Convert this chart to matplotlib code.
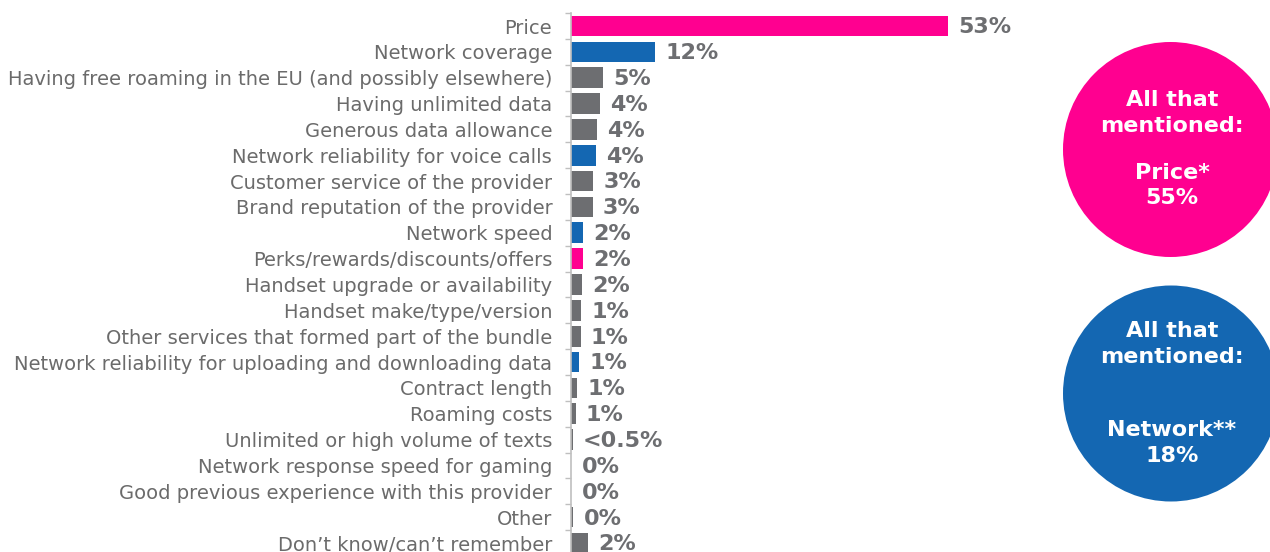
import matplotlib.pyplot as plt
from matplotlib.patches import Circle

# Данные
categories = [
    "Price", "Network coverage",
    "Having free roaming in the EU (and possibly elsewhere)",
    "Having unlimited data", "Generous data allowance",
    "Network reliability for voice calls", "Customer service of the provider",
    "Brand reputation of the provider", "Network speed",
    "Perks/rewards/discounts/offers", "Handset upgrade or availability",
    "Handset make/type/version", "Other services that formed part of the bundle",
    "Network reliability for uploading and downloading data", "Contract length",
    "Roaming costs", "Unlimited or high volume of texts",
    "Network response speed for gaming", "Good previous experience with this provider",
    "Other", "Don\u2019t know/can\u2019t remember",
]
values = [53.0, 11.8, 4.5, 4.1, 3.6, 3.5, 3.1, 3.0, 1.7, 1.7, 1.5,
          1.4, 1.3, 1.1, 0.8, 0.6, 0.2, 0.0, 0.0, 0.3, 2.3]
value_labels = ["53%", "12%", "5%", "4%", "4%", "4%", "3%", "3%", "2%", "2%", "2%",
                "1%", "1%", "1%", "1%", "1%", "<0.5%", "0%", "0%", "0%", "2%"]
groups = ["price", "network", "other", "other", "other", "network", "other", "other",
          "network", "price", "other", "other", "other", "network", "other", "other",
          "other", "other", "other", "other", "other"]

bubble_price = ["All that", "mentioned:", "Price*", "55%"]
bubble_network = ["All that", "mentioned:", "Network**", "18%"]

pink = "#FF0090"
blue = "#1467B2"
grey = "#6D6E71"
colors = {"price": pink, "network": blue, "other": grey}

W, H = 1270, 552
fig = plt.figure(figsize=(W / 100, H / 100), dpi=100)

# Основные оси с барами
n = len(categories)
row = 25.85
top = 26 - row / 2
ax = fig.add_axes([571 / W, 1 - (top + n * row) / H, (947.7 - 571) / W * 60 / 53, n * row / H])
y = list(range(n))
ax.barh(y, values, height=0.8, color=[colors[g] for g in groups], left=0.05)
ax.set_xlim(0, 60)
ax.set_ylim(n - 0.5, -0.5)

for i, (v, lab) in enumerate(zip(values, value_labels)):
    ax.annotate(lab, (v, i), xytext=(7.5, -1), textcoords="offset points",
                va="center", ha="left", fontsize=16, fontweight="bold", color=grey)

ax.set_yticks(y)
ax.set_yticklabels(categories, fontsize=14, color="#6B6B6B")
ax.set_yticks([i - 0.5 for i in range(n + 1)], minor=True)
ax.tick_params(axis="y", which="major", length=0, pad=13.5)
ax.tick_params(axis="y", which="minor", length=4, color="#BFBFBF", width=1)
ax.set_xticks([])
for s in ["top", "right", "bottom"]:
    ax.spines[s].set_visible(False)
ax.spines["left"].set_color("#BFBFBF")
ax.spines["left"].set_linewidth(1.2)

# Круги справа
ov = fig.add_axes([0, 0, 1, 1])
ov.set_xlim(0, W)
ov.set_ylim(H, 0)
ov.axis("off")
ov.add_patch(Circle((1170.5, 149.5), 107.5, color=pink, lw=0))
ov.add_patch(Circle((1171, 393.5), 108, color=blue, lw=0))

tkw = dict(ha="center", va="center", color="white", fontsize=16, fontweight="bold")
for txt, yy in zip(bubble_price, [100, 126, 173, 198]):
    ov.text(1172, yy, txt, **tkw)
for txt, yy in zip(bubble_network, [331, 357, 430, 456]):
    ov.text(1172, yy, txt, **tkw)

fig.savefig("out.png", dpi=100)
